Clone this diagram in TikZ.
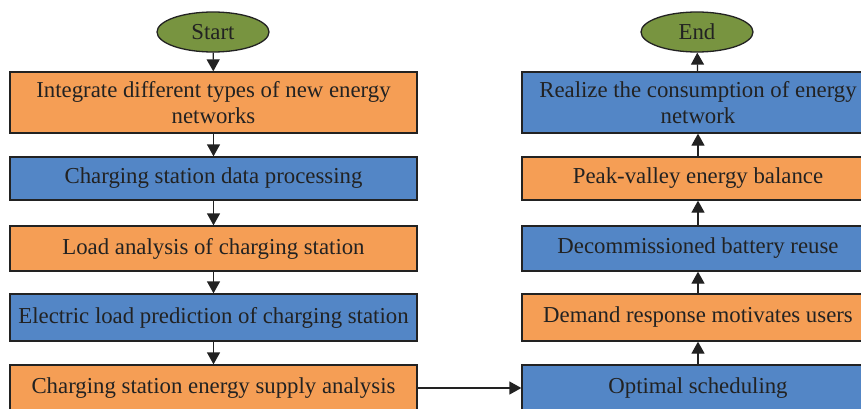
\documentclass[tikz,border=0pt]{standalone}
\usepackage{fontspec}
\setmainfont{Liberation Serif}
\usetikzlibrary{arrows.meta,shapes.geometric}
\definecolor{boxorange}{HTML}{F59E55}
\definecolor{boxblue}{HTML}{5386C6}
\definecolor{boxgreen}{HTML}{789440}
\definecolor{txt}{HTML}{222222}
\tikzset{
  base/.style={draw=txt,line width=1.3pt,text=txt,font=\fontsize{22.8}{26}\selectfont,align=center,inner sep=0pt},
  obox/.style={base,rectangle,fill=boxorange},
  bbox/.style={base,rectangle,fill=boxblue},
  term/.style={base,ellipse,fill=boxgreen,minimum width=112pt,minimum height=40pt},
  conn/.style={draw=txt,line width=1.3pt,-{Triangle[width=13pt,length=12pt]}}
}
\begin{document}
\begin{tikzpicture}[x=1pt,y=-1pt]
\useasboundingbox (0,0) rectangle (861,409);
\clip (0,0) rectangle (861,409);
\node[term] (start) at (213,32) {Start};
\node[obox,minimum width=407pt,minimum height=61pt] (l1) at (213.5,102.5) {Integrate different types of new energy\\networks};
\node[bbox,minimum width=407pt,minimum height=43pt] (l2) at (213.5,178.5) {Charging station data processing};
\node[obox,minimum width=407pt,minimum height=45pt] (l3) at (213.5,248.5) {Load analysis of charging station};
\node[bbox,minimum width=407pt,minimum height=47pt] (l4) at (213.5,317.5) {Electric load prediction of charging station};
\node[obox,minimum width=407pt,minimum height=46pt] (l5) at (213.5,388) {Charging station energy supply analysis};

\node[term] (end) at (697,32) {End};
\node[bbox,minimum width=352pt,minimum height=61pt] (r1) at (698,102.5) {Realize the consumption of energy\\network};
\node[obox,minimum width=352pt,minimum height=43pt] (r2) at (698,178.5) {Peak-valley energy balance};
\node[bbox,minimum width=352pt,minimum height=45pt] (r3) at (698,248.5) {Decommissioned battery reuse};
\node[obox,minimum width=352pt,minimum height=47pt] (r4) at (698,317.5) {Demand response motivates users};
\node[bbox,minimum width=352pt,minimum height=46pt] (r5) at (698,388) {Optimal scheduling};

\draw[conn] (start) -- (l1);
\draw[conn] (l1) -- (l2);
\draw[conn] (l2) -- (l3);
\draw[conn] (l3) -- (l4);
\draw[conn] (l4) -- (l5);
\draw[conn] (l5.east) -- (r5.west);
\draw[conn] (r5) -- (r4);
\draw[conn] (r4) -- (r3);
\draw[conn] (r3) -- (r2);
\draw[conn] (r2) -- (r1);
\draw[conn] (r1) -- (end);
\end{tikzpicture}
\end{document}
